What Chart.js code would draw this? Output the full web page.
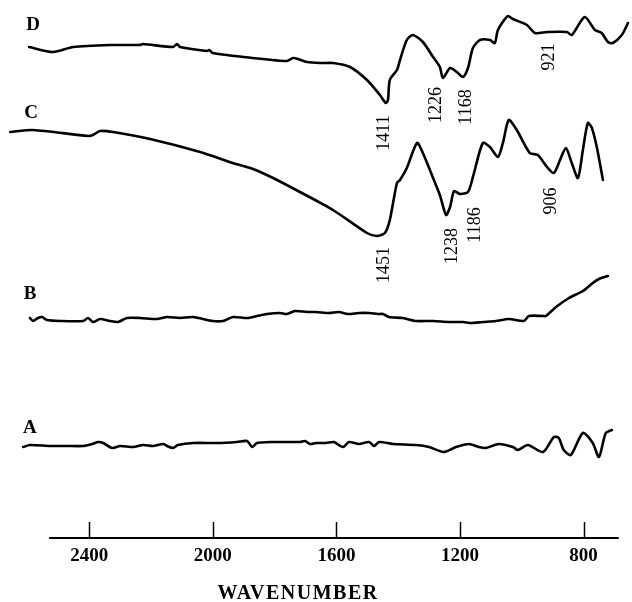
<!DOCTYPE html>
<html lang="en">
<head>
    <meta charset="UTF-8">
    <title>IR Spectra A-D</title>
    <script src="https://cdn.jsdelivr.net/npm/chart.js"></script>
    <style>
        body { margin: 0; background: #fff; }
        canvas { display: block; }
    </style>
</head>
<body>
    <canvas id="spectra" width="632" height="602"></canvas>

    <script>
        // axis ticks and extent of the drawn baseline (cm-1)
        const tickValues = [2400, 2000, 1600, 1200, 800];
        const axisRange = [2530, 686];

        // trace D
        const waveD = [2595, 2517, 2452, 2333, 2236, 2226, 2129, 2116, 2106, 2019, 2012, 2000, 1870, 1760, 1740, 1724, 1695, 1653, 1611, 1556, 1501, 1459, 1440, 1433, 1427, 1404, 1394, 1372, 1352, 1320, 1287, 1265, 1255, 1232, 1210, 1190, 1174, 1158, 1135, 1103, 1087, 1077, 1045, 1029, 983, 957, 918, 854, 838, 796, 763, 741, 721, 705, 676, 656];
        const valD = [491, 486, 491, 493, 493, 494, 491, 494, 491, 487, 488, 485, 480, 477, 480, 479, 476, 475, 475, 471, 458, 443, 435, 438, 458, 468, 478, 498, 503, 496, 481, 471, 460, 470, 466, 461, 470, 490, 498, 498, 495, 508, 522, 519, 513, 505, 506, 506, 503, 521, 508, 505, 496, 495, 503, 515];

        // trace C
        const waveC = [2656, 2582, 2404, 2388, 2365, 2323, 2203, 2041, 1935, 1870, 1805, 1718, 1611, 1501, 1469, 1443, 1427, 1404, 1394, 1372, 1339, 1320, 1287, 1265, 1245, 1232, 1219, 1200, 1174, 1158, 1126, 1103, 1077, 1061, 1042, 1016, 974, 948, 918, 896, 876, 857, 838, 818, 802, 786, 773, 757, 737];
        const valC = [406, 408, 402, 403, 407, 406, 399, 386, 375, 369, 360, 346, 328, 305, 302, 305, 318, 355, 358, 370, 395, 385, 360, 343, 323, 331, 347, 344, 346, 361, 395, 391, 381, 395, 418, 408, 385, 383, 371, 365, 378, 390, 375, 360, 388, 415, 410, 391, 358];

        // trace B
        const waveB = [2592, 2582, 2566, 2553, 2537, 2494, 2420, 2404, 2388, 2365, 2333, 2307, 2278, 2236, 2181, 2148, 2106, 2064, 2000, 1967, 1935, 1889, 1857, 1825, 1783, 1760, 1734, 1695, 1666, 1624, 1592, 1563, 1527, 1494, 1465, 1449, 1430, 1385, 1342, 1287, 1236, 1190, 1164, 1126, 1084, 1042, 993, 977, 932, 922, 889, 847, 802, 770, 750, 721];
        const valB = [220, 217, 220, 221, 218, 217, 217, 220, 216, 219, 217, 216, 220, 220, 219, 221, 220, 221, 217, 217, 221, 220, 222, 224, 225, 224, 227, 226, 226, 225, 226, 224, 225, 225, 224, 224, 221, 220, 217, 217, 216, 216, 215, 216, 217, 219, 217, 222, 222, 222, 231, 240, 247, 255, 259, 262];

        // trace A
        const waveA = [2614, 2592, 2527, 2472, 2420, 2391, 2371, 2355, 2326, 2300, 2258, 2226, 2194, 2161, 2148, 2129, 2113, 2064, 1986, 1922, 1889, 1873, 1857, 1805, 1718, 1702, 1685, 1666, 1634, 1608, 1579, 1559, 1527, 1494, 1478, 1462, 1417, 1342, 1300, 1252, 1213, 1171, 1139, 1116, 1074, 1029, 1012, 980, 931, 896, 880, 864, 841, 802, 770, 750, 728, 708];
        const valA = [91, 93, 92, 92, 92, 94, 96, 95, 90, 92, 91, 93, 92, 94, 92, 90, 93, 95, 95, 96, 97, 91, 95, 96, 96, 97, 94, 95, 95, 96, 91, 96, 94, 96, 92, 96, 94, 93, 91, 86, 91, 94, 91, 90, 94, 91, 88, 93, 86, 101, 100, 88, 83, 105, 95, 81, 105, 108];

        // trace letters and band labels
        const traceNames = ['D', 'C', 'B', 'A'];
        const nameAt = [[2582, 513], [2588, 425], [2592, 244], [2592, 110]];
        const bandText = ['1411', '1226', '1168', '921', '1451', '1238', '1186', '906'];
        const bandAt = [[1448, 405], [1281, 433], [1182, 431], [914, 481], [1449, 273], [1229, 292], [1153, 313], [907, 337]];

        const serif = "'Liberation Serif', 'Times New Roman', serif";

        function toPoints(w, v) {
            return w.map((x, i) => ({x: x, y: v[i]}));
        }

        function trace(w, v) {
            return {
                data: toPoints(w, v),
                borderColor: '#000',
                borderWidth: 2.6,
                borderJoinStyle: 'round',
                borderCapStyle: 'round',
                pointRadius: 0,
                fill: false,
                tension: 0.25
            };
        }

        // baseline with upward ticks, letters, band labels, axis title
        const paperAxis = {
            id: 'paperAxis',
            afterDraw(chart) {
                const {ctx, scales: {x, y}} = chart;
                const base = y.getPixelForValue(0);
                ctx.save();
                ctx.strokeStyle = '#000';
                ctx.fillStyle = '#000';

                ctx.lineWidth = 2;
                ctx.beginPath();
                ctx.moveTo(x.getPixelForValue(axisRange[0]), base);
                ctx.lineTo(x.getPixelForValue(axisRange[1]), base);
                ctx.stroke();

                ctx.lineWidth = 1.5;
                tickValues.forEach(v => {
                    const px = Math.round(x.getPixelForValue(v)) + 0.5;
                    ctx.beginPath();
                    ctx.moveTo(px, base);
                    ctx.lineTo(px, base - 16);
                    ctx.stroke();
                });

                ctx.textAlign = 'center';
                ctx.textBaseline = 'middle';
                ctx.font = 'bold 19px ' + serif;
                traceNames.forEach((t, i) => {
                    ctx.fillText(t, x.getPixelForValue(nameAt[i][0]), y.getPixelForValue(nameAt[i][1]));
                });

                ctx.font = '18px ' + serif;
                bandText.forEach((t, i) => {
                    ctx.save();
                    ctx.translate(x.getPixelForValue(bandAt[i][0]), y.getPixelForValue(bandAt[i][1]));
                    ctx.rotate(-Math.PI / 2);
                    ctx.fillText(t, 0, 1);
                    ctx.restore();
                });

                ctx.font = 'bold 20px ' + serif;
                ctx.letterSpacing = '1.5px';
                ctx.fillText('WAVENUMBER', x.getPixelForValue(1724), base + 56);
                ctx.restore();
            }
        };

        new Chart(document.getElementById('spectra'), {
            type: 'line',
            data: {
                datasets: [
                    trace(waveD, valD),
                    trace(waveC, valC),
                    trace(waveB, valB),
                    trace(waveA, valA)
                ]
            },
            options: {
                responsive: false,
                animation: false,
                layout: { padding: 0 },
                plugins: {
                    legend: { display: false },
                    tooltip: { enabled: false }
                },
                scales: {
                    x: {
                        type: 'linear',
                        reverse: true,
                        min: 643,
                        max: 2689,
                        afterBuildTicks: s => { s.ticks = tickValues.map(v => ({value: v})); },
                        afterFit: s => { s.height = 64; },
                        grid: { display: false, drawTicks: false },
                        border: { display: false },
                        ticks: {
                            padding: 7,
                            color: '#000',
                            maxRotation: 0,
                            callback: v => String(v),
                            font: { family: serif, size: 19, weight: 'bold' }
                        }
                    },
                    y: {
                        display: false,
                        min: 0,
                        max: 538
                    }
                }
            },
            plugins: [paperAxis]
        });
    </script>
</body>
</html>
